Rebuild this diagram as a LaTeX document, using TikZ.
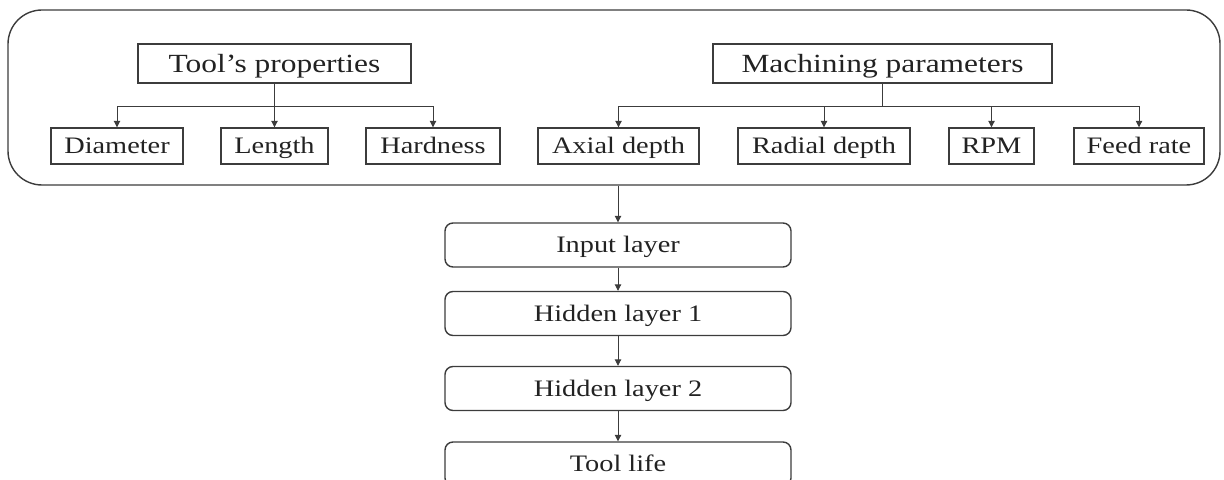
\documentclass[tikz,border=0pt]{standalone}
\usepackage{fontspec}
\setmainfont{Liberation Serif}
\usetikzlibrary{arrows.meta}
\definecolor{ln}{HTML}{3C3C3C}
\definecolor{tx}{HTML}{222222}
\newcommand{\wtxt}[1]{\scalebox{1.2}[1]{#1}}
\begin{document}
\begin{tikzpicture}[x=0.5pt,y=-0.5pt,
  every node/.style={text=tx, inner sep=0pt},
  lbl/.style={font=\fontsize{11.8}{14}\selectfont, text height=7.8pt, text depth=0pt},
  hlbl/.style={font=\fontsize{13.1}{15}\selectfont, text height=8.7pt, text depth=0pt},
  sqbox/.style={lbl, draw=ln, line width=0.7pt, minimum height=18pt},
  topbox/.style={hlbl, draw=ln, line width=0.7pt, minimum height=19.5pt},
  layerbox/.style={lbl, draw=ln, line width=0.7pt, rounded corners=4pt, minimum width=173pt, minimum height=22pt},
  conn/.style={draw=ln, line width=0.45pt},
  arr/.style={conn, -{Triangle[width=3.2pt,length=3.2pt]}}]
\useasboundingbox (0,0) rectangle (1224,480);
% outer container
\node[draw=ln, line width=0.7pt, rounded corners=17pt, minimum width=606pt, minimum height=87.5pt] (outer) at (614,97.5) {};
% group headers
\node[topbox, minimum width=136.5pt] (tp) at (274.5,63.5) {\wtxt{Tool’s properties}};
\node[topbox, minimum width=169.5pt] (mp) at (882.5,63.5) {\wtxt{Machining parameters}};
% leaf boxes
\node[sqbox, minimum width=66pt] (dia) at (117,146) {\wtxt{Diameter}};
\node[sqbox, minimum width=53.5pt] (len) at (274.5,146) {\wtxt{Length}};
\node[sqbox, minimum width=67pt] (hard) at (433,146) {\wtxt{Hardness}};
\node[sqbox, minimum width=80.5pt] (ax) at (618.5,146) {\wtxt{Axial depth}};
\node[sqbox, minimum width=86pt] (rad) at (824,146) {\wtxt{Radial depth}};
\node[sqbox, minimum width=42.5pt] (rpm) at (991.5,146) {\wtxt{RPM}};
\node[sqbox, minimum width=65pt] (feed) at (1139,146) {\wtxt{Feed rate}};
% layers
\node[layerbox] (in) at (618,245) {\wtxt{Input layer}};
\node[layerbox] (h1) at (618,313.5) {\wtxt{Hidden layer 1}};
\node[layerbox] (h2) at (618,388.5) {\wtxt{Hidden layer 2}};
\node[layerbox] (tl) at (618,464) {\wtxt{Tool life}};
% bus level
\coordinate (by) at (0,106);
% tool's properties tree
\draw[conn] (tp.south) -- (tp.south |- by);
\draw[arr] (tp.south |- by) -| (dia.north);
\draw[arr] (tp.south |- by) -- (len.north);
\draw[arr] (tp.south |- by) -| (hard.north);
% machining parameters tree
\draw[conn] (mp.south) -- (mp.south |- by);
\draw[arr] (mp.south |- by) -| (ax.north);
\draw[arr] (mp.south |- by) -| (rad.north);
\draw[arr] (mp.south |- by) -| (rpm.north);
\draw[arr] (mp.south |- by) -| (feed.north);
% network chain
\draw[arr] (in.north |- outer.south) -- (in.north);
\draw[arr] (in.south) -- (h1.north);
\draw[arr] (h1.south) -- (h2.north);
\draw[arr] (h2.south) -- (tl.north);
\end{tikzpicture}
\end{document}
